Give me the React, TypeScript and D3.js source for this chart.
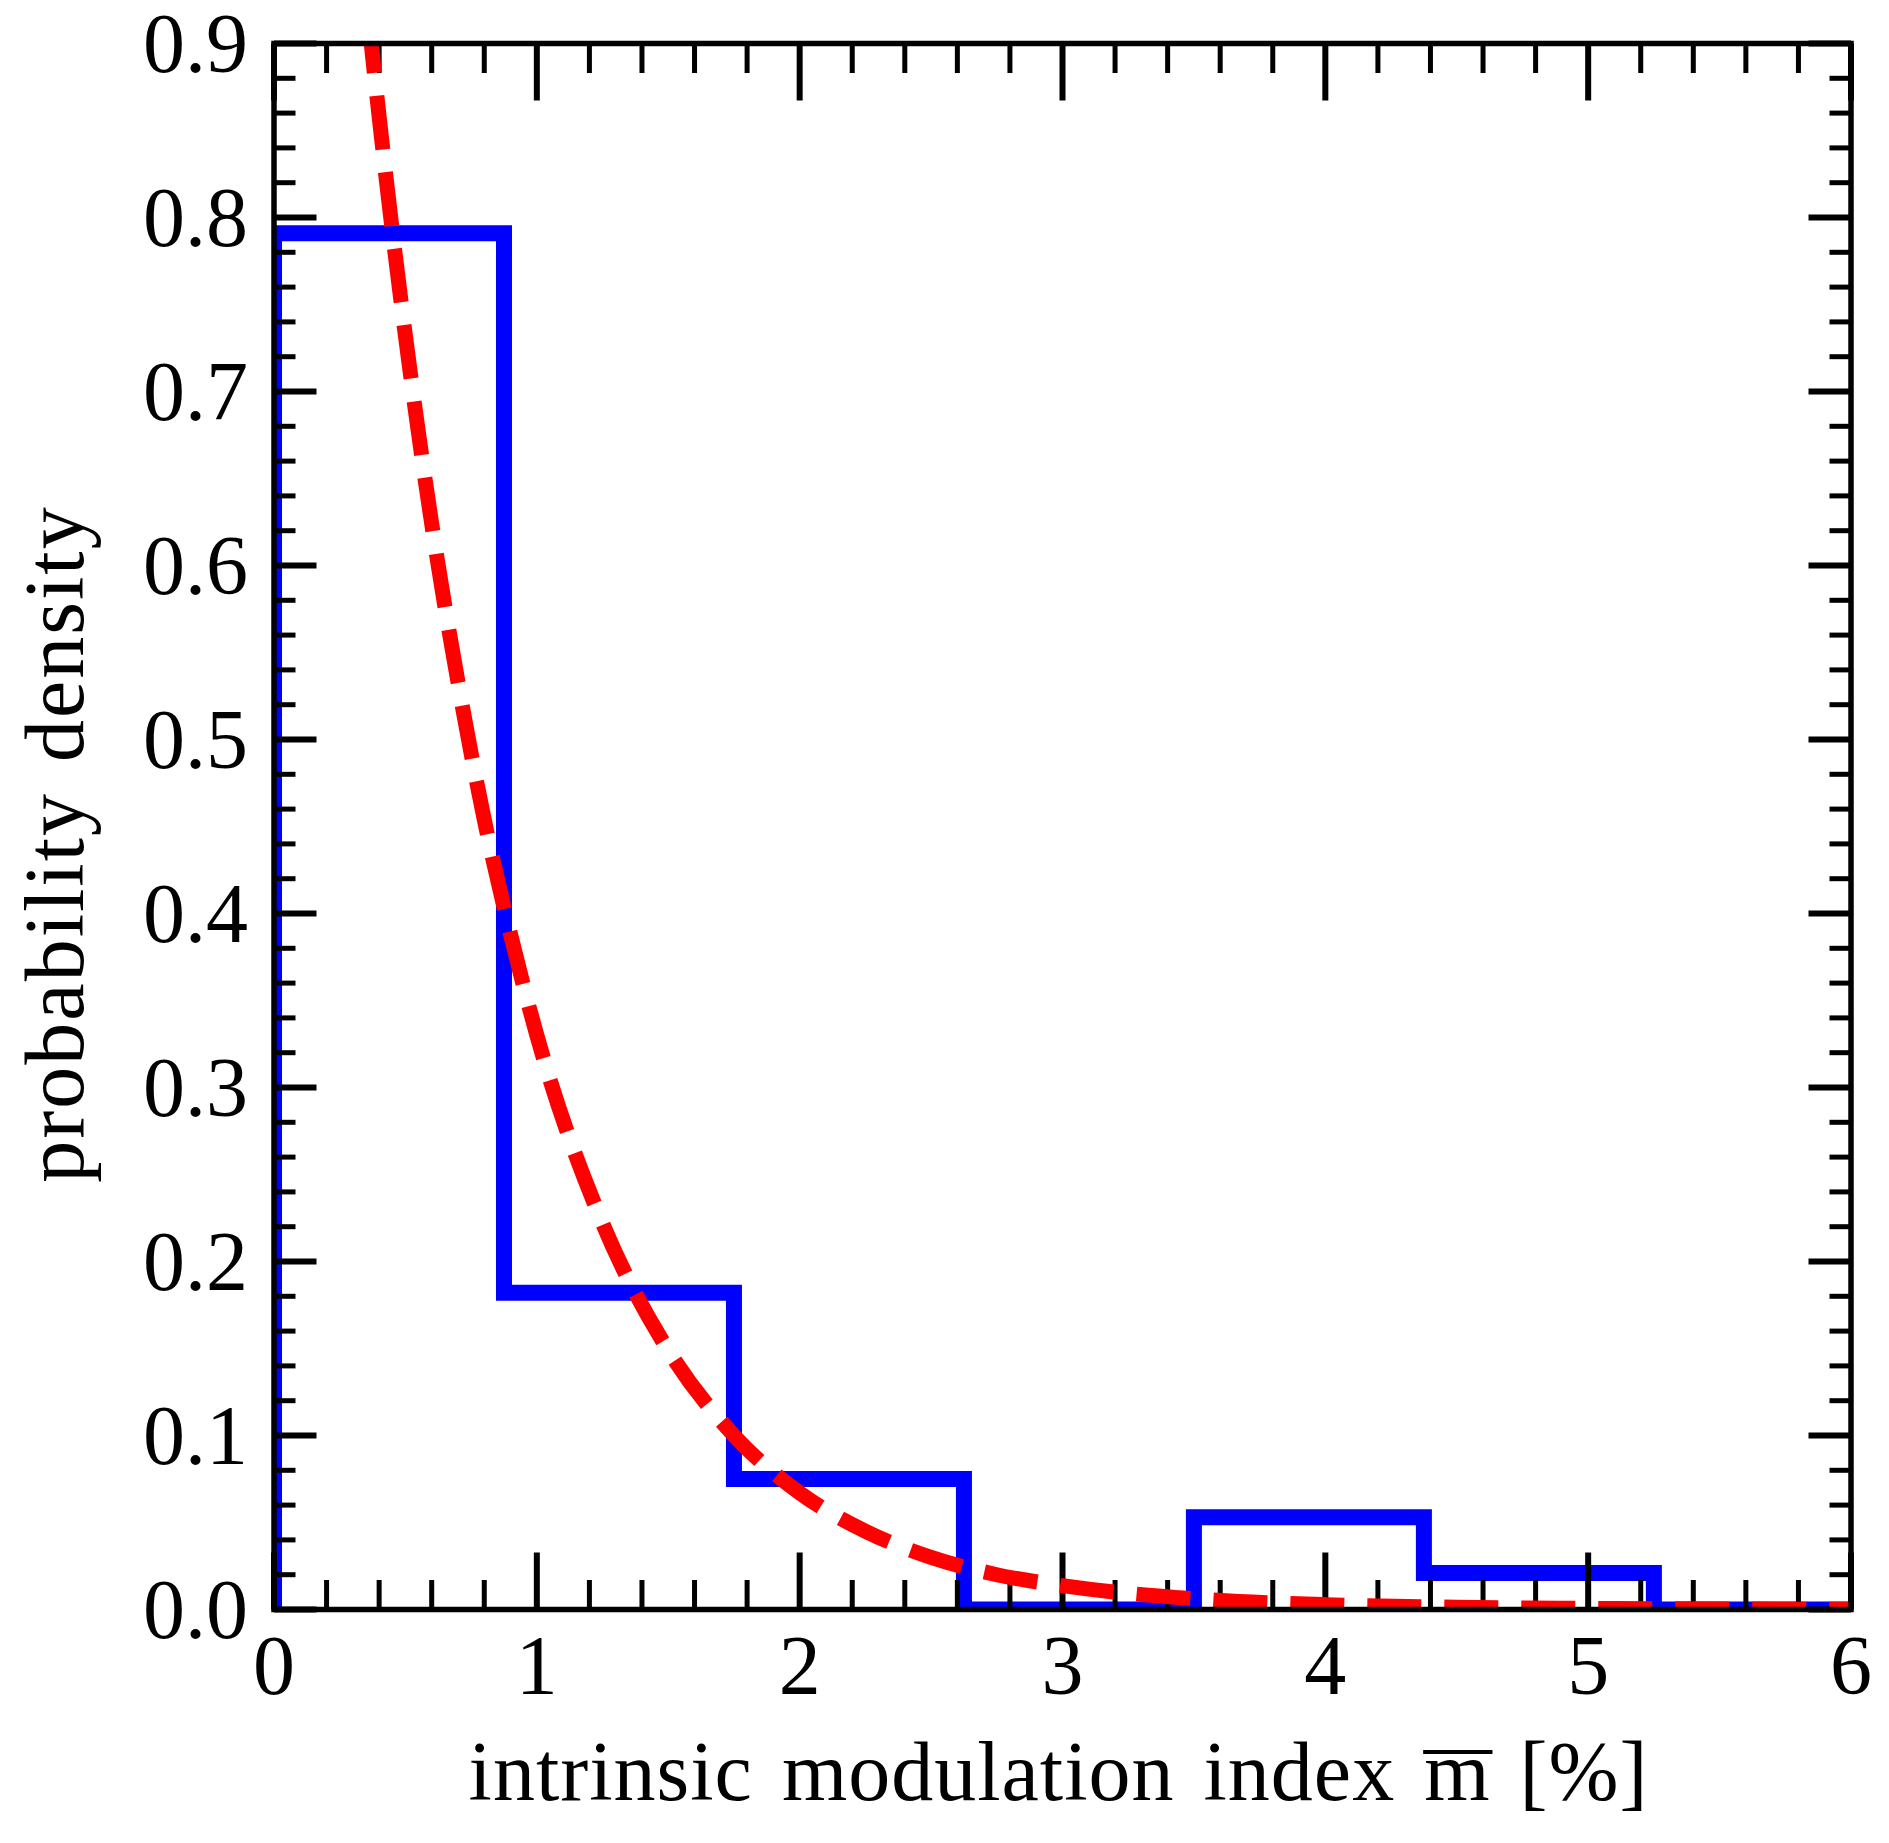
import { useLayoutEffect, useRef, useState } from 'react'
import * as d3 from 'd3'

// Histogram of the intrinsic modulation index with an exponential fit on top.
// Step outline in blue, fit as a thick red dash; ticks on all four sides, in.
const BIN_EDGES = [0, 0.875, 1.75, 2.625, 3.5, 4.375, 5.25, 6.125]
const BIN_DENSITY = [0.791, 0.182, 0.075, 0, 0.053, 0.021, 0]

const FIT_X = [0, 0.1, 0.2, 0.3, 0.4, 0.5, 0.6, 0.7, 0.8, 0.9, 1.0, 1.25, 1.5, 1.75, 2.0, 2.25, 2.5, 2.75, 3.0, 3.5, 4.0, 4.5, 5.0, 5.5, 6.0]
const FIT_Y = [1.62, 1.382, 1.179, 1.005, 0.858, 0.732, 0.624, 0.533, 0.454, 0.388, 0.330, 0.222, 0.149, 0.1, 0.067, 0.045, 0.030, 0.020, 0.0137, 0.0062, 0.0028, 0.0013, 0.0006, 0.0003, 0.0001]

const X_MAJOR = [0, 1, 2, 3, 4, 5, 6]
const Y_MAJOR = [0, 0.1, 0.2, 0.3, 0.4, 0.5, 0.6, 0.7, 0.8, 0.9]

const X_LABEL_HEAD = 'intrinsic modulation index '
const X_LABEL_SYM = 'm'
const X_LABEL_TAIL = ' [%]'
const Y_LABEL = 'probability density'

const W = 1889
const H = 1843
const FONT = '"Liberation Serif", "Times New Roman", serif'
const FS = 84

export default function App() {
  const m = { left: 274, right: W - 1851, top: 43.5, bottom: H - 1609.5 }
  const x = d3.scaleLinear().domain([0, 6]).range([m.left, W - m.right])
  const y = d3.scaleLinear().domain([0, 0.9]).range([H - m.bottom, m.top])

  const xMinor = d3.range(0, 6.0001, 0.2).filter((v) => Math.abs(v - Math.round(v)) > 1e-6)
  const yMinor = d3.range(0, 0.9001, 0.02).filter((v) => Math.abs(v * 10 - Math.round(v * 10)) > 1e-6)

  // step outline: up the first edge, across each bin, down the last edge
  const steps: [number, number][] = [[BIN_EDGES[0], 0]]
  BIN_DENSITY.forEach((d, i) => {
    steps.push([BIN_EDGES[i], d], [BIN_EDGES[i + 1], d])
  })
  steps.push([BIN_EDGES[BIN_EDGES.length - 1], 0])
  const stepPath = d3.line().x((p) => x(p[0])).y((p) => y(p[1]))(steps)

  const fitPath = d3
    .line<number>()
    .x((v) => x(v))
    .y((_, i) => y(FIT_Y[i]))
    .curve(d3.curveMonotoneX)(FIT_X)

  const labelRef = useRef<SVGTextElement>(null)
  const [bar, setBar] = useState<[number, number] | null>(null)
  useLayoutEffect(() => {
    const el = labelRef.current
    if (!el) return
    const i = X_LABEL_HEAD.length
    const a = el.getStartPositionOfChar(i).x
    const b = el.getEndPositionOfChar(i).x
    setBar([a, b])
  }, [])

  const x0 = x(0)
  const x1 = x(6)
  const y0 = y(0)
  const y1 = y(0.9)
  const tick = { fill: 'none', stroke: '#000' }

  return (
    <div style={{ position: 'absolute', left: 0, top: 0 }}>
      <svg width={W} height={H} viewBox={`0 0 ${W} ${H}`} style={{ display: 'block', background: '#fff' }}>
        <defs>
          <clipPath id="plot">
            <rect x={x0} y={y1} width={x1 - x0} height={y0 - y1} />
          </clipPath>
        </defs>

        <g clipPath="url(#plot)">
          {stepPath && <path d={stepPath} fill="none" stroke="#0000ff" strokeWidth={16} strokeLinejoin="miter" />}
        </g>

        {/* ticks sit above the histogram, below the fit line */}
        <g {...tick}>
          {X_MAJOR.map((v) => (
            <g key={`xM${v}`} strokeWidth={6}>
              <line x1={x(v)} x2={x(v)} y1={y0} y2={y0 - 57} />
              <line x1={x(v)} x2={x(v)} y1={y1} y2={y1 + 57} />
            </g>
          ))}
          {xMinor.map((v) => (
            <g key={`xm${v}`} strokeWidth={5}>
              <line x1={x(v)} x2={x(v)} y1={y0} y2={y0 - 29.5} />
              <line x1={x(v)} x2={x(v)} y1={y1} y2={y1 + 29.5} />
            </g>
          ))}
          {Y_MAJOR.map((v) => (
            <g key={`yM${v}`} strokeWidth={6}>
              <line x1={x0} x2={x0 + 42.5} y1={y(v)} y2={y(v)} />
              <line x1={x1} x2={x1 - 42.5} y1={y(v)} y2={y(v)} />
            </g>
          ))}
          {yMinor.map((v) => (
            <g key={`ym${v}`} strokeWidth={5}>
              <line x1={x0} x2={x0 + 21.5} y1={y(v)} y2={y(v)} />
              <line x1={x1} x2={x1 - 21.5} y1={y(v)} y2={y(v)} />
            </g>
          ))}
        </g>

        <g clipPath="url(#plot)">
          {fitPath && (
            <path d={fitPath} fill="none" stroke="#ff0000" strokeWidth={15} strokeDasharray="54 23" strokeLinecap="butt" />
          )}
        </g>

        <rect x={x0} y={y1} width={x1 - x0} height={y0 - y1} fill="none" stroke="#000" strokeWidth={5.5} />

        <g fontFamily={FONT} fontSize={FS} fill="#000">
          {Y_MAJOR.map((v) => (
            <text key={`yl${v}`} x={x0 - 26} y={y(v) + 28.4} textAnchor="end">
              {d3.format('.1f')(v)}
            </text>
          ))}
          {X_MAJOR.map((v) => (
            <text key={`xl${v}`} x={x(v)} y={1693.5} textAnchor="middle">
              {String(v)}
            </text>
          ))}
          <text
            ref={labelRef}
            x={(x0 + x1) / 2 - 4}
            y={1800}
            textAnchor="middle"
            style={{ letterSpacing: '1px', wordSpacing: '7px' }}
          >
            {X_LABEL_HEAD + X_LABEL_SYM + X_LABEL_TAIL}
          </text>
          {bar && <line x1={bar[0] - 1} x2={bar[1] + 2} y1={1752} y2={1752} stroke="#000" strokeWidth={4} />}
          <text
            transform="translate(83,844) rotate(-90)"
            textAnchor="middle"
            style={{ letterSpacing: '2px', wordSpacing: '7px' }}
          >
            {Y_LABEL}
          </text>
        </g>
      </svg>
    </div>
  )
}
